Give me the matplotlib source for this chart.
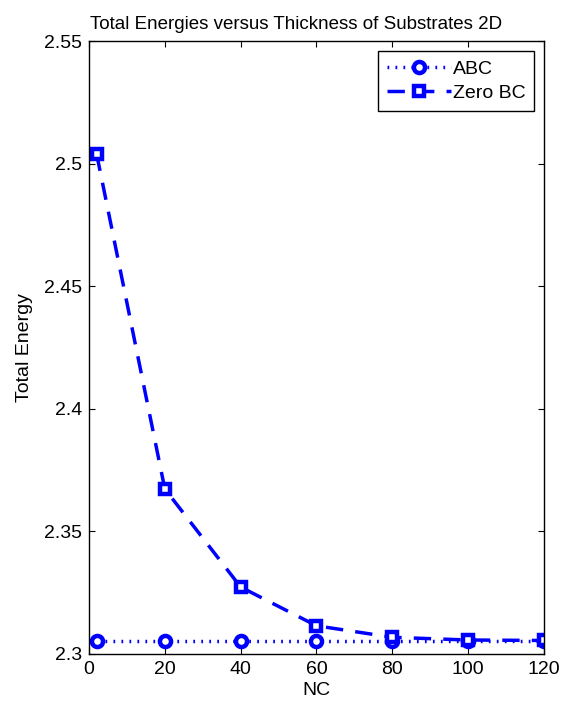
import matplotlib
matplotlib.use("Agg")
import matplotlib.pyplot as plt

plt.rcParams['font.family'] = ['Liberation Sans', 'DejaVu Sans']

# data
nc = [2, 20, 40, 60, 80, 100, 120]
abc_energy = [2.3054, 2.3054, 2.3054, 2.3054, 2.3054, 2.3054, 2.3054]
zero_bc_energy = [2.5040, 2.3673, 2.3273, 2.3115, 2.3068, 2.3057, 2.3055]

x_ticks = [0, 20, 40, 60, 80, 100, 120]
y_ticks = [2.3, 2.35, 2.4, 2.45, 2.5, 2.55]
y_ticklabels = ['2.3', '2.35', '2.4', '2.45', '2.5', '2.55']

fig = plt.figure(figsize=(5.64, 7.08), dpi=100)
ax = fig.add_axes([0.1578, 0.0763, 0.8067, 0.8657])

ax.plot(nc, abc_energy, color='blue', linestyle=(0, (0.5, 1.8)), linewidth=2.5,
        marker='o', markersize=8, markeredgewidth=3.2, markerfacecolor='white',
        markeredgecolor='blue', label='ABC')
ax.plot(nc, zero_bc_energy, color='blue', linestyle=(0, (5, 3.5)), linewidth=2.5,
        marker='s', markersize=7, markeredgewidth=3.2, markerfacecolor='white',
        markeredgecolor='blue', label='Zero BC')

ax.set_xlim(0, 120)
ax.set_ylim(2.3, 2.55)
ax.set_xticks(x_ticks)
ax.set_yticks(y_ticks)
ax.set_yticklabels(y_ticklabels)
ax.tick_params(direction='in', length=4.3, width=0.8, labelsize=14,
               top=True, right=True, pad=5)
for s in ax.spines.values():
    s.set_linewidth(1.0)

ax.set_xlabel('NC', fontsize=14, labelpad=3)
ax.set_ylabel('Total Energy', fontsize=14, labelpad=8)
# the title sits a bit left of the axes centre in the original
ax.set_title('Total Energies versus Thickness of Substrates 2D', fontsize=13.5,
             pad=9, x=0.455)

leg = ax.legend(loc='upper right', numpoints=1, fontsize=14, fancybox=False,
                edgecolor='black', framealpha=1, handlelength=3.3,
                borderaxespad=0.5, handletextpad=0.1, labelspacing=0.3,
                borderpad=0.45, handleheight=0.8)
leg.get_frame().set_linewidth(1.0)

fig.savefig('out.png', dpi=100)
